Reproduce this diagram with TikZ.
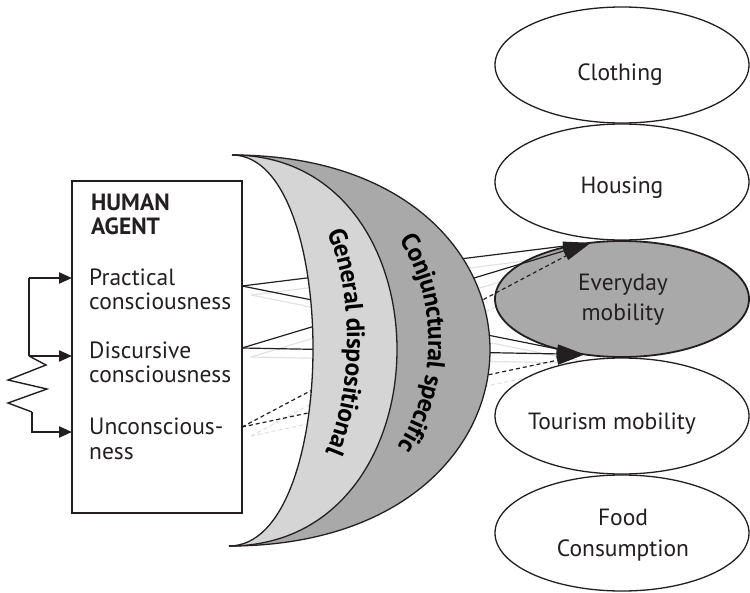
\documentclass[tikz,border=0pt]{standalone}
\usepackage{fontspec}
\setmainfont{PT Sans}
\usetikzlibrary{shapes.geometric,arrows.meta,decorations.text}
\definecolor{ink}{HTML}{231F20}
\definecolor{lightg}{HTML}{D5D5D5}
\definecolor{darkg}{HTML}{A9A9A9}
\definecolor{shadowg}{HTML}{E2E2E2}
\newcommand\crestfont{\fontsize{25.5}{25.5}\selectfont\bfseries}
\pgfdeclarelayer{shadowlayer}
\pgfsetlayers{shadowlayer,main}
\begin{document}
\begin{tikzpicture}[x=1pt,y=-1pt,
  oval/.style={ellipse, draw=ink, line width=1.3pt, minimum width=254pt, minimum height=116pt, inner sep=0pt, outer sep=0pt, fill=white},
  lbl/.style={font=\fontsize{23.5}{24}\selectfont, text=ink, inner sep=0pt, anchor=base west},
  hlbl/.style={lbl, font=\fontsize{23.5}{24}\selectfont\bfseries},
  etxt/.style={font=\fontsize{23.5}{24}\selectfont, text=ink, inner sep=0pt, anchor=base},
  conn/.style={draw=ink, line width=1.2pt, -{Triangle[length=28pt,width=9pt]}},
  dconn/.style={conn, dash pattern=on 4pt off 3pt},
  shadowline/.style={draw=shadowg, line width=1.2pt},
  dshadowline/.style={shadowline, dash pattern=on 4pt off 3pt},
  feed/.style={draw=ink, line width=2.2pt, -{Triangle[length=13pt,width=11pt]}}
]
\useasboundingbox (0,0) rectangle (750,592);

% human agent box
\node[draw=ink, line width=1.5pt, minimum width=170pt, minimum height=332pt, inner sep=0pt, outer sep=0pt] (box) at (157,347) {};
\node[hlbl] (human) at (91,210) {HUMAN};
\node[hlbl] (agent) at (91,234) {AGENT};
\node[lbl] (prac1) at (89,285) {Practical};
\node[lbl] (prac2) at (89,309) {consciousness};
\node[lbl] (disc1) at (89,358) {Discursive};
\node[lbl] (disc2) at (89,382) {consciousness};
\node[lbl] (unc1) at (89,434) {Unconscious-};
\node[lbl] (unc2) at (89,459) {ness};

% feedback arrows on the left
\coordinate (j1) at (29,278);
\coordinate (j2) at (29,356);
\coordinate (j3) at (32,412);
\coordinate (j4) at (32,432);
\draw[draw=ink, line width=2.2pt] (j1) -- (j2);
\draw[feed] (j1) -- (box.west |- j1);
\draw[feed] (j2) -- (box.west |- j2);
\draw[draw=ink, line width=1.4pt, line join=miter] (j2) -- (46,365) -- (8,380) -- (47,389) -- (8,403) -- (j3);
\draw[feed] (j3) -- (j4) -- (box.west |- j4);

% outputs of the box
\coordinate (pR) at (box.east |- 0,286);
\coordinate (dR) at (box.east |- 0,348);
\coordinate (uR) at (box.east |- 0,427);

% ellipses
\node[oval] (cloth) at (622,65) {};
\node[oval] (house) at (622,182) {};
\node[oval, fill=darkg, line width=1.8pt] (evd) at (622,299) {};
\node[oval] (tour) at (622,416) {};
\node[oval] (food) at (622,533) {};

\node[etxt] (clothT) at (620,80) {Clothing};
\node[etxt] (houseT) at (622,193) {Housing};
\node[etxt] (evdT1) at (623,290) {Everyday};
\node[etxt] (evdT2) at (623,320) {mobility};
\node[etxt] (tourT) at (612,429) {Tourism mobility};
\node[etxt] (foodT1) at (623,525) {Food};
\node[etxt] (foodT2) at (623,556) {Consumption};

% faint shadow lines, behind everything
\begin{pgfonlayer}{shadowlayer}
\draw[shadowline] ([shift={(9,9)}]pR) -- ([shift={(9,9)}]evd.119);
\draw[shadowline] ([shift={(9,9)}]pR) -- ([shift={(9,9)}]evd.236);
\draw[shadowline] ([shift={(9,9)}]dR) -- ([shift={(9,9)}]evd.119);
\draw[shadowline] ([shift={(9,9)}]dR) -- ([shift={(9,9)}]evd.236);
\draw[dshadowline] ([shift={(9,9)}]uR) -- ([shift={(9,9)}]evd.119);
\draw[dshadowline] ([shift={(9,9)}]uR) -- ([shift={(9,9)}]evd.236);
\end{pgfonlayer}

% connectors
\draw[conn] (pR) -- (evd.119);
\draw[conn] (pR) -- (evd.236);
\draw[conn] (dR) -- (evd.119);
\draw[conn] (dR) -- (evd.236);
\draw[dconn] (uR) -- (evd.119);
\draw[dconn] (uR) -- (evd.236);

% crescent
\coordinate (ctop) at (232,155);
\coordinate (cbot) at (229,546);
\fill[darkg] (ctop) .. controls (576.5,155) and (576.5,546) .. (cbot)
   .. controls (340.5,546) and (340.5,155) .. (ctop) -- cycle;
\fill[lightg] (ctop) .. controls (452.5,155) and (452.5,546) .. (cbot)
   .. controls (340.5,546) and (340.5,155) .. (ctop) -- cycle;
\draw[draw=ink, line width=1.3pt] (ctop) .. controls (576.5,155) and (576.5,546) .. (cbot);
\draw[draw=ink, line width=1.3pt] (ctop) .. controls (452.5,155) and (452.5,546) .. (cbot);
\draw[draw=ink, line width=1.3pt] (ctop) .. controls (340.5,155) and (340.5,546) .. (cbot);

\path[decorate, decoration={text along path, text={|\crestfont|General dispositional}, text align=center, raise=-8pt}]
  (232,146) .. controls (396.5,146) and (396.5,537) .. (229,537);
\path[decorate, decoration={text along path, text={|\crestfont|Conjunctural specific}, text align=center, raise=-8pt}]
  (232,147) .. controls (505,147) and (505,538) .. (229,538);
\end{tikzpicture}
\end{document}
